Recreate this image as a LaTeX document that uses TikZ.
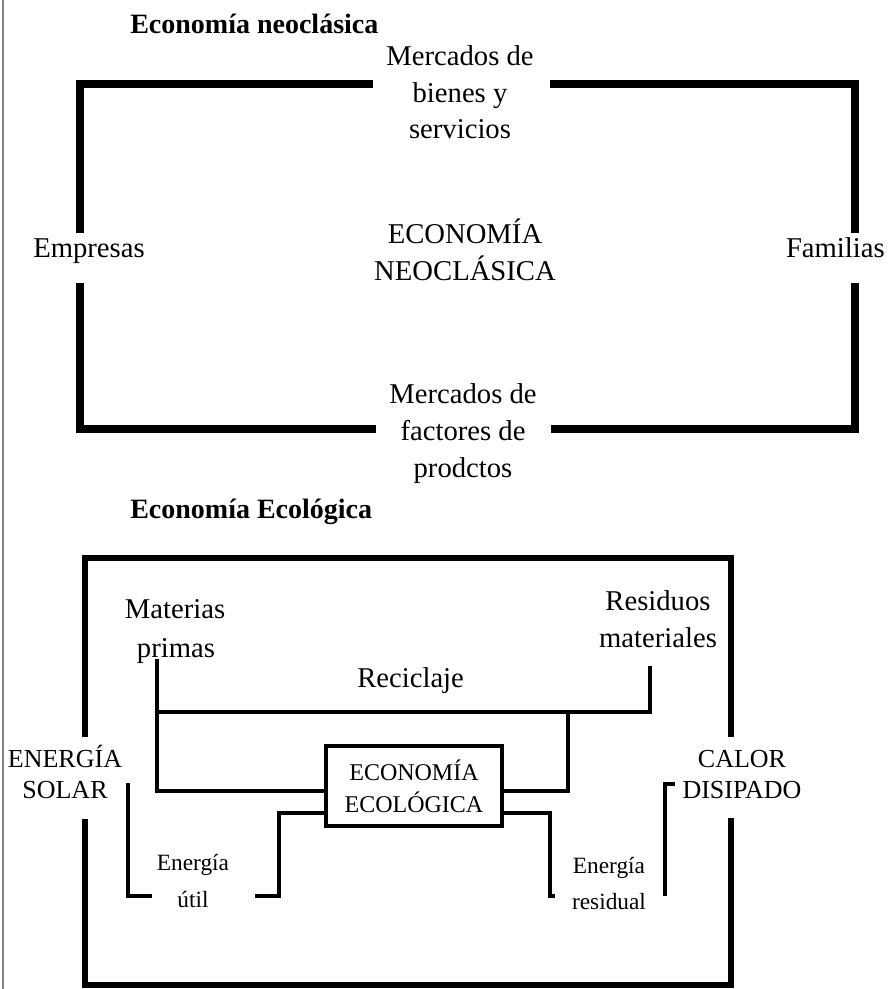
\documentclass[tikz,border=0pt]{standalone}
\usepackage{fontspec}
\setmainfont{Liberation Serif}
\begin{document}
\begin{tikzpicture}[x=0.75pt,y=-0.75pt,
  frameA/.style={line width=5.5pt, line join=miter},
  frameB/.style={line width=4.5pt, line join=miter},
  innerln/.style={line width=3pt, line join=miter},
  lbl/.style={inner sep=0pt, anchor=base, font=\fontsize{21.5}{25}\selectfont},
  ttl/.style={inner sep=0pt, anchor=base west, font=\bfseries\fontsize{21}{25}\selectfont},
  capsl/.style={inner sep=0pt, anchor=base, font=\fontsize{19.5}{23}\selectfont},
  smalll/.style={inner sep=0pt, anchor=base, font=\fontsize{17.5}{20}\selectfont},
  ecobox/.style={draw, line width=3pt, minimum width=132pt, minimum height=60pt, inner sep=0pt, align=center, font=\fontsize{18}{24}\selectfont}
]
\useasboundingbox (0,0) rectangle (888,989);
\draw[gray, line width=1.5pt] (3,0) -- (3,989);

% ---------- Economía neoclásica ----------
\node[ttl] (t1) at (130,33) {Economía neoclásica};
\node[lbl] (mb1) at (460,65) {Mercados de};
\node[lbl] (mb2) at (460,102) {bienes y};
\node[lbl] (mb3) at (460,138) {servicios};
\node[lbl] (en1) at (465,243) {ECONOMÍA};
\node[lbl] (en2) at (465,280) {NEOCLÁSICA};
\node[lbl, anchor=base west] (emp) at (33,257) {Empresas};
\node[lbl, anchor=base east] (fam) at (885,257) {Familias};
\node[lbl] (mf1) at (463,403) {Mercados de};
\node[lbl] (mf2) at (463,440) {factores de};
\node[lbl] (mf3) at (463,477) {prodctos};

\coordinate (tl) at (80,84);
\coordinate (tr) at (855,84);
\coordinate (bl) at (80,429);
\coordinate (br) at (855,429);
\draw[frameA] (373,84) -- (tl) -- (80,233);
\draw[frameA] (550,84) -- (tr) -- (855,233);
\draw[frameA] (80,283) -- (bl) -- (376,429);
\draw[frameA] (855,283) -- (br) -- (551,429);

% ---------- Economía Ecológica ----------
\node[ttl] (t2) at (130,518) {Economía Ecológica};

\coordinate (otl) at (85,558);
\coordinate (otr) at (731,558);
\coordinate (obl) at (85,985);
\coordinate (obr) at (731,985);
\draw[frameB] (85,737) -- (otl) -- (otr) -- (731,737);
\draw[frameB] (85,819) -- (obl) -- (obr) -- (731,818);

\node[ecobox] (eco) at (414,786) {ECONOMÍA\\ECOLÓGICA};

\node[lbl] (mp1) at (175,618) {Materias};
\node[lbl] (mp2) at (176,657) {primas};
\node[lbl] (rm1) at (658,610) {Residuos};
\node[lbl] (rm2) at (658,647) {materiales};
\node[lbl, anchor=base west] (rec) at (357,687) {Reciclaje};
\node[capsl] (es1) at (65,767) {ENERGÍA};
\node[capsl] (es2) at (65,798) {SOLAR};
\node[capsl] (cd1) at (742,767) {CALOR};
\node[capsl] (cd2) at (742,798) {DISIPADO};
\node[smalll] (eu1) at (193,870) {Energía};
\node[smalll] (eu2) at (193,907) {útil};
\node[smalll] (er1) at (609,873) {Energía};
\node[smalll] (er2) at (609,909) {residual};

% inner connectors
\coordinate (mpTop) at (157,659);
\coordinate (mpJoin) at (157,712);
\coordinate (mpBot) at (157,791);
\coordinate (rsTop) at (650,666);
\coordinate (rsJoin) at (650,712);
\coordinate (recTop) at (568,712);
\coordinate (recBot) at (568,791);
\draw[innerln] (mpTop) -- (mpBot) -- (mpBot -| eco.west);
\draw[innerln] (mpJoin) -- (rsJoin) -- (rsTop);
\draw[innerln] (recTop) -- (recBot) -- (recBot -| eco.east);

\coordinate (ua) at (279,813);
\coordinate (ub) at (279,896);
\coordinate (uc) at (255,896);
\draw[innerln] (eco.west |- ua) -- (ua) -- (ub) -- (uc);
\coordinate (ud) at (152,896);
\coordinate (ue) at (128,896);
\coordinate (uf) at (128,783);
\draw[innerln] (ud) -- (ue) -- (uf);

\coordinate (ra) at (550,813);
\coordinate (rb) at (550,896);
\coordinate (rc) at (555,896);
\draw[innerln] (eco.east |- ra) -- (ra) -- (rb) -- (rc);
\coordinate (rd) at (665,896);
\coordinate (re) at (665,784);
\coordinate (rf) at (675,784);
\draw[innerln] (rd) -- (re) -- (rf);
\end{tikzpicture}
\end{document}
